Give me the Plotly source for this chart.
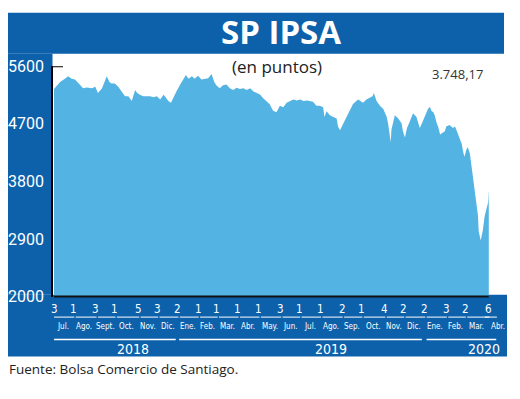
import datetime as _dt
import plotly.graph_objects as go

# ---------------- data ----------------
dates = [
    "2018-07-03", "2018-07-06", "2018-07-12", "2018-07-19", "2018-07-24", "2018-07-29",
    "2018-08-03", "2018-08-10", "2018-08-15", "2018-08-20", "2018-08-28", "2018-09-02",
    "2018-09-06", "2018-09-12", "2018-09-16", "2018-09-19", "2018-09-23", "2018-09-26",
    "2018-10-01", "2018-10-06", "2018-10-11", "2018-10-16", "2018-10-21", "2018-10-26",
    "2018-10-31", "2018-11-03", "2018-11-07", "2018-11-12", "2018-11-17", "2018-11-22",
    "2018-11-27", "2018-12-02", "2018-12-07", "2018-12-12", "2018-12-14", "2018-12-19",
    "2018-12-23", "2018-12-26", "2018-12-31", "2019-01-05", "2019-01-10", "2019-01-14",
    "2019-01-18", "2019-01-23", "2019-01-27", "2019-02-01", "2019-02-06", "2019-02-11",
    "2019-02-16", "2019-02-21", "2019-02-25", "2019-02-28", "2019-03-05", "2019-03-10",
    "2019-03-15", "2019-03-20", "2019-03-25", "2019-03-30", "2019-04-04", "2019-04-09",
    "2019-04-14", "2019-04-19", "2019-04-24", "2019-04-29", "2019-05-04", "2019-05-08",
    "2019-05-13", "2019-05-18", "2019-05-23", "2019-05-28", "2019-06-02", "2019-06-07",
    "2019-06-12", "2019-06-17", "2019-06-22", "2019-06-27", "2019-07-02", "2019-07-07",
    "2019-07-12", "2019-07-16", "2019-07-21", "2019-07-26", "2019-07-31", "2019-08-05",
    "2019-08-07", "2019-08-10", "2019-08-15", "2019-08-20", "2019-08-25", "2019-08-27",
    "2019-08-30", "2019-09-04", "2019-09-09", "2019-09-14", "2019-09-18", "2019-09-23",
    "2019-09-26", "2019-09-28", "2019-10-03", "2019-10-08", "2019-10-13", "2019-10-17",
    "2019-10-19", "2019-10-23", "2019-10-28", "2019-11-02", "2019-11-07", "2019-11-09",
    "2019-11-13", "2019-11-14", "2019-11-19", "2019-11-24", "2019-11-29", "2019-12-01",
    "2019-12-04", "2019-12-07", "2019-12-11", "2019-12-14", "2019-12-16", "2019-12-21",
    "2019-12-23", "2019-12-26", "2019-12-31", "2020-01-05", "2020-01-07", "2020-01-10",
    "2020-01-12", "2020-01-15", "2020-01-17", "2020-01-20", "2020-01-22", "2020-01-25",
    "2020-01-29", "2020-02-01", "2020-02-03", "2020-02-08", "2020-02-13", "2020-02-16",
    "2020-02-18", "2020-02-21", "2020-02-23", "2020-02-26", "2020-02-28", "2020-03-01",
    "2020-03-04", "2020-03-06", "2020-03-09", "2020-03-13", "2020-03-16", "2020-03-19",
    "2020-03-21", "2020-03-22", "2020-03-25", "2020-03-28", "2020-03-31", "2020-04-05",
    "2020-04-06",
]
ipsa = [
    5243, 5277, 5352, 5402, 5441, 5402,
    5392, 5313, 5253, 5268, 5253, 5277,
    5179, 5253, 5377, 5441, 5352, 5328,
    5328, 5277, 5203, 5128, 5128, 5054,
    5228, 5179, 5154, 5128, 5128, 5128,
    5113, 5128, 5079, 5154, 5128, 5054,
    5030, 5104, 5203, 5302, 5402, 5462,
    5402, 5441, 5402, 5451, 5392, 5402,
    5411, 5476, 5352, 5302, 5253, 5302,
    5313, 5253, 5228, 5262, 5243, 5253,
    5228, 5253, 5203, 5179, 5154, 5104,
    5054, 5005, 4905, 4881, 4980, 4956,
    5030, 5054, 5079, 5064, 5079, 5054,
    5064, 5054, 5045, 4980, 4980, 4956,
    4807, 4896, 4831, 4807, 4782, 4658,
    4599, 4707, 4807, 4905, 5005, 5054,
    5079, 5064, 5030, 5079, 5104, 5128,
    5179, 5054, 4980, 4930, 4807, 4707,
    4410, 4608, 4831, 4782, 4707, 4584,
    4484, 4633, 4732, 4831, 4866, 4807,
    4732, 4633, 4756, 4881, 4930, 4965,
    4905, 4881, 4831, 4707, 4658, 4533,
    4558, 4584, 4658, 4682, 4633, 4658,
    4608, 4533, 4459, 4384, 4261, 4186,
    4301, 4335, 4235, 3919, 3666, 3472,
    3264, 3026, 2877, 3026, 3264, 3472,
    3666, 3748.17,
]
last_label = "3.748,17"

y_ticks = [2000, 2900, 3800, 4700, 5600]

month_starts = [
    "2018-07-03", "2018-08-01", "2018-09-03", "2018-10-01", "2018-11-05", "2018-12-03",
    "2019-01-02", "2019-02-01", "2019-03-01", "2019-04-01", "2019-05-02", "2019-06-03",
    "2019-07-01", "2019-08-01", "2019-09-02", "2019-10-01", "2019-11-04", "2019-12-02",
    "2020-01-02", "2020-02-03", "2020-03-02", "2020-04-06",
]
day_labels = ["3", "1", "3", "1", "5", "3", "2", "1", "1", "1", "1", "3",
              "1", "1", "2", "1", "4", "2", "2", "3", "2", "6"]
month_labels = ["Jul.", "Ago.", "Sept.", "Oct.", "Nov.", "Dic.", "Ene.", "Feb.", "Mar.",
                "Abr.", "May.", "Jun.", "Jul.", "Ago.", "Sep.", "Oct.", "Nov.", "Dic.",
                "Ene.", "Feb.", "Mar.", "Abr."]
years = ["2018", "2019", "2020"]
year_spans = [("2018-07-03", "2018-12-30"), ("2019-01-04", "2019-12-29"),
              ("2020-01-05", "2020-04-17")]
year_label_pos = ["2018-10-28", "2019-08-17", "2020-03-30"]

title = "SP IPSA"
subtitle = "(en puntos)"
source = "Fuente: Bolsa Comercio de Santiago."

# ---------------- styling ----------------
W, H = 520, 399
FRAME = "#0d61ab"
FILL = "#53b3e3"
NARROW = "DejaVu Sans Condensed, Liberation Sans Narrow, Roboto, sans-serif"


def px(x):
    return x / W


def py(y):
    return 1 - y / H


def shift(d, days):
    return (_dt.date.fromisoformat(d) + _dt.timedelta(days=days)).isoformat()


fig = go.Figure()
fig.add_trace(go.Scatter(
    x=dates, y=ipsa, mode="lines", fill="tozeroy",
    line=dict(width=0, color=FILL), fillcolor=FILL, hoverinfo="skip",
    showlegend=False,
))

shapes = [
    dict(type="rect", xref="paper", yref="paper", x0=px(8), x1=px(504), y0=py(47), y1=py(4),
         fillcolor=FRAME, line=dict(width=0), layer="below"),
    dict(type="rect", xref="paper", yref="paper", x0=px(8), x1=px(52.5), y0=py(300), y1=py(47),
         fillcolor=FRAME, line=dict(width=0), layer="below"),
    dict(type="rect", xref="paper", yref="paper", x0=px(8), x1=px(507), y0=py(365), y1=py(300),
         fillcolor=FRAME, line=dict(width=0), layer="below"),
    dict(type="line", xref="paper", yref="y", x0=px(53), x1=px(63), y0=5600, y1=5600,
         line=dict(color="black", width=2)),
    dict(type="line", xref="x", yref="paper", x0=dates[0], x1=dates[-1], y0=py(302), y1=py(302),
         line=dict(color="#111", width=2)),
]

annotations = []
for i, (ms, dl, ml) in enumerate(zip(month_starts, day_labels, month_labels)):
    annotations.append(dict(x=ms, y=py(315), xref="x", yref="paper", text=dl, showarrow=False,
                            font=dict(family=NARROW, size=11.5, color="white"),
                            xanchor="center", yanchor="middle"))
    if i + 1 < len(month_starts):
        nxt = month_starts[i + 1]
        seg0, seg1 = shift(ms, 3 if i else 0), shift(nxt, 1)
        d0, d1 = _dt.date.fromisoformat(ms), _dt.date.fromisoformat(nxt)
        mid = (d0 + (d1 - d0) / 2).isoformat()
    else:
        seg0, seg1 = shift(ms, -6), shift(ms, 12)
        mid = shift(ms, 13)
    shapes.append(dict(type="line", xref="x", yref="paper", x0=seg0, x1=seg1,
                       y0=py(323.5), y1=py(323.5), line=dict(color="white", width=1)))
    annotations.append(dict(x=mid, y=py(333), xref="x", yref="paper", text=ml, showarrow=False,
                            font=dict(family=NARROW, size=8, color="white"),
                            xanchor="center", yanchor="middle"))

for yr, (a, b), pos in zip(years, year_spans, year_label_pos):
    shapes.append(dict(type="line", xref="x", yref="paper", x0=a, x1=b,
                       y0=py(347), y1=py(347), line=dict(color="white", width=1.5)))
    annotations.append(dict(x=pos, y=py(357), xref="x", yref="paper", text=yr, showarrow=False,
                            font=dict(family=NARROW, size=14, color="white"),
                            xanchor="center", yanchor="middle"))

annotations += [
    dict(x=px(281), y=py(24), xref="paper", yref="paper", text=f"<b>{title}</b>", showarrow=False,
         font=dict(family="Open Sans, sans-serif", size=33, color="white"),
         xanchor="center", yanchor="middle"),
    dict(x=px(277), y=py(60), xref="paper", yref="paper", text=subtitle, showarrow=False,
         font=dict(family="Open Sans, sans-serif", size=17, color="#222"),
         xanchor="center", yanchor="middle"),
    dict(x=px(457), y=py(68), xref="paper", yref="paper", text=last_label, showarrow=False,
         font=dict(family="Open Sans, sans-serif", size=13, color="#333"),
         xanchor="center", yanchor="middle"),
    dict(x=px(7), y=py(378), xref="paper", yref="paper", text=source, showarrow=False,
         font=dict(family="Open Sans, sans-serif", size=13.5, color="#222"),
         xanchor="left", yanchor="middle"),
]

fig.update_layout(
    width=W, height=H, autosize=False,
    margin=dict(l=0, r=0, t=0, b=0),
    paper_bgcolor="white", plot_bgcolor="rgba(0,0,0,0)",
    shapes=shapes, annotations=annotations, showlegend=False,
    xaxis=dict(domain=[px(53), px(503)], type="date",
               range=["2018-07-01 12:00", "2020-04-27"],
               visible=False, fixedrange=True),
    yaxis=dict(domain=[py(302), py(60)], range=[2000, 5600],
               tickvals=y_ticks, ticktext=[str(v) for v in y_ticks],
               tickfont=dict(family="Roboto, sans-serif", size=16, color="white"),
               showgrid=False, zeroline=False, ticks="",
               showline=True, linecolor="black", linewidth=1.5,
               ticklabelstandoff=4, fixedrange=True),
)

fig.write_html(
    "out.html",
    config={"displayModeBar": False, "responsive": False},
    post_script=(
        "var d=document.getElementById('{plot_id}');"
        "d.style.position='fixed';d.style.top='0px';d.style.left='0px';"
        "document.body.style.margin='0';document.body.style.overflow='hidden';"
        "document.documentElement.style.overflow='hidden';"
    ),
)
